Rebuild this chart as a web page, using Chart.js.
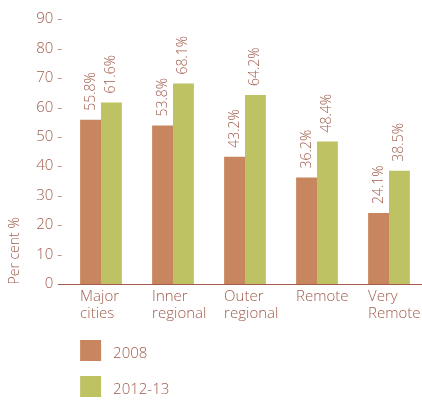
<!DOCTYPE html>
<html>
<head>
<meta charset="utf-8">
<script src="https://cdn.jsdelivr.net/npm/chart.js@4.4.1/dist/chart.umd.min.js"></script>
<style>
  html, body { margin: 0; padding: 0; background: #fff; overflow: hidden; }
  #wrap { width: 422px; height: 401px; overflow: hidden; }
</style>
</head>
<body>
<div id="wrap"><canvas id="chart" width="425" height="401"></canvas></div>
<script>
// data
const categories = [['Major', 'cities'], ['Inner', 'regional'], ['Outer', 'regional'], ['Remote'], ['Very', 'Remote']];
const seriesNames = ['2008', '2012-13'];
const values2008 = [55.8, 53.8, 43.2, 36.2, 24.1];
const values2012 = [61.6, 68.1, 64.2, 48.4, 38.5];
const yMin = 0, yMax = 90, yStep = 10;
const yTitle = 'Per cent %';

const TEXT = '#a05c4c';
const FONT = '"Open Sans", sans-serif';
const colors = ['#c8865e', '#bfc263'];

// labels, axis line, y title and legend drawn by hand
const decorations = {
    id: 'decorations',
    afterDraw(chart) {
        const ctx = chart.ctx;
        const y = chart.scales.y;
        const zeroY = Math.round(y.getPixelForValue(0)) + 0.5;

        ctx.save();
        ctx.strokeStyle = TEXT;
        ctx.lineWidth = 1.2;
        ctx.beginPath();
        ctx.moveTo(58, zeroY);
        ctx.lineTo(chart.width, zeroY);
        ctx.stroke();

        ctx.fillStyle = TEXT;
        ctx.font = '300 14px ' + FONT;

        // value labels, rotated
        chart.data.datasets.forEach((ds, di) => {
            chart.getDatasetMeta(di).data.forEach((bar, i) => {
                ctx.save();
                ctx.translate(bar.x, bar.y - 9);
                ctx.rotate(-Math.PI / 2);
                ctx.textAlign = 'left';
                ctx.textBaseline = 'middle';
                ctx.fillText(ds.data[i].toFixed(1) + '%', 0, 0);
                ctx.restore();
            });
        });

        // y title
        ctx.save();
        ctx.translate(15, zeroY);
        ctx.rotate(-Math.PI / 2);
        ctx.textAlign = 'left';
        ctx.textBaseline = 'middle';
        ctx.fillText(yTitle, 0, 0);
        ctx.restore();

        // category labels, left aligned on the first bar
        ctx.font = '300 15px ' + FONT;
        const first = chart.getDatasetMeta(0).data;
        ctx.textAlign = 'left';
        ctx.textBaseline = 'alphabetic';
        chart.data.labels.forEach((lab, i) => {
            const x = first[i].x - first[i].width / 2;
            lab.forEach((line, li) => ctx.fillText(line, x, zeroY + 16.5 + li * 17));
        });

        // legend, one item per row
        const lx = first[0].x - first[0].width / 2;
        chart.data.datasets.forEach((ds, di) => {
            const top = zeroY + 55.5 + di * 36;
            ctx.fillStyle = ds.backgroundColor;
            ctx.fillRect(lx, top, 21, 21);
            ctx.fillStyle = TEXT;
            ctx.fillText(ds.label, lx + 33, top + 18);
        });
        ctx.restore();
    }
};

new Chart(document.getElementById('chart'), {
    type: 'bar',
    data: {
        labels: categories,
        datasets: [
            { label: seriesNames[0], data: values2008, backgroundColor: colors[0] },
            { label: seriesNames[1], data: values2012, backgroundColor: colors[1] }
        ]
    },
    options: {
        responsive: false,
        animation: false,
        layout: { padding: { top: 19, bottom: 117, left: 0, right: 0 } },
        datasets: { bar: { categoryPercentage: 0.58, barPercentage: 1.0 } },
        plugins: {
            legend: { display: false },
            tooltip: { enabled: false }
        },
        scales: {
            x: { display: false },
            y: {
                min: yMin,
                max: yMax,
                afterFit(scale) { scale.width = 65; },
                border: { display: false },
                grid: { display: false, drawTicks: false },
                ticks: {
                    stepSize: yStep,
                    padding: 3,
                    color: TEXT,
                    font: { family: FONT, size: 15, weight: 300 },
                    callback: v => v + ' -'
                }
            }
        }
    },
    plugins: [decorations]
});
</script>
</body>
</html>
